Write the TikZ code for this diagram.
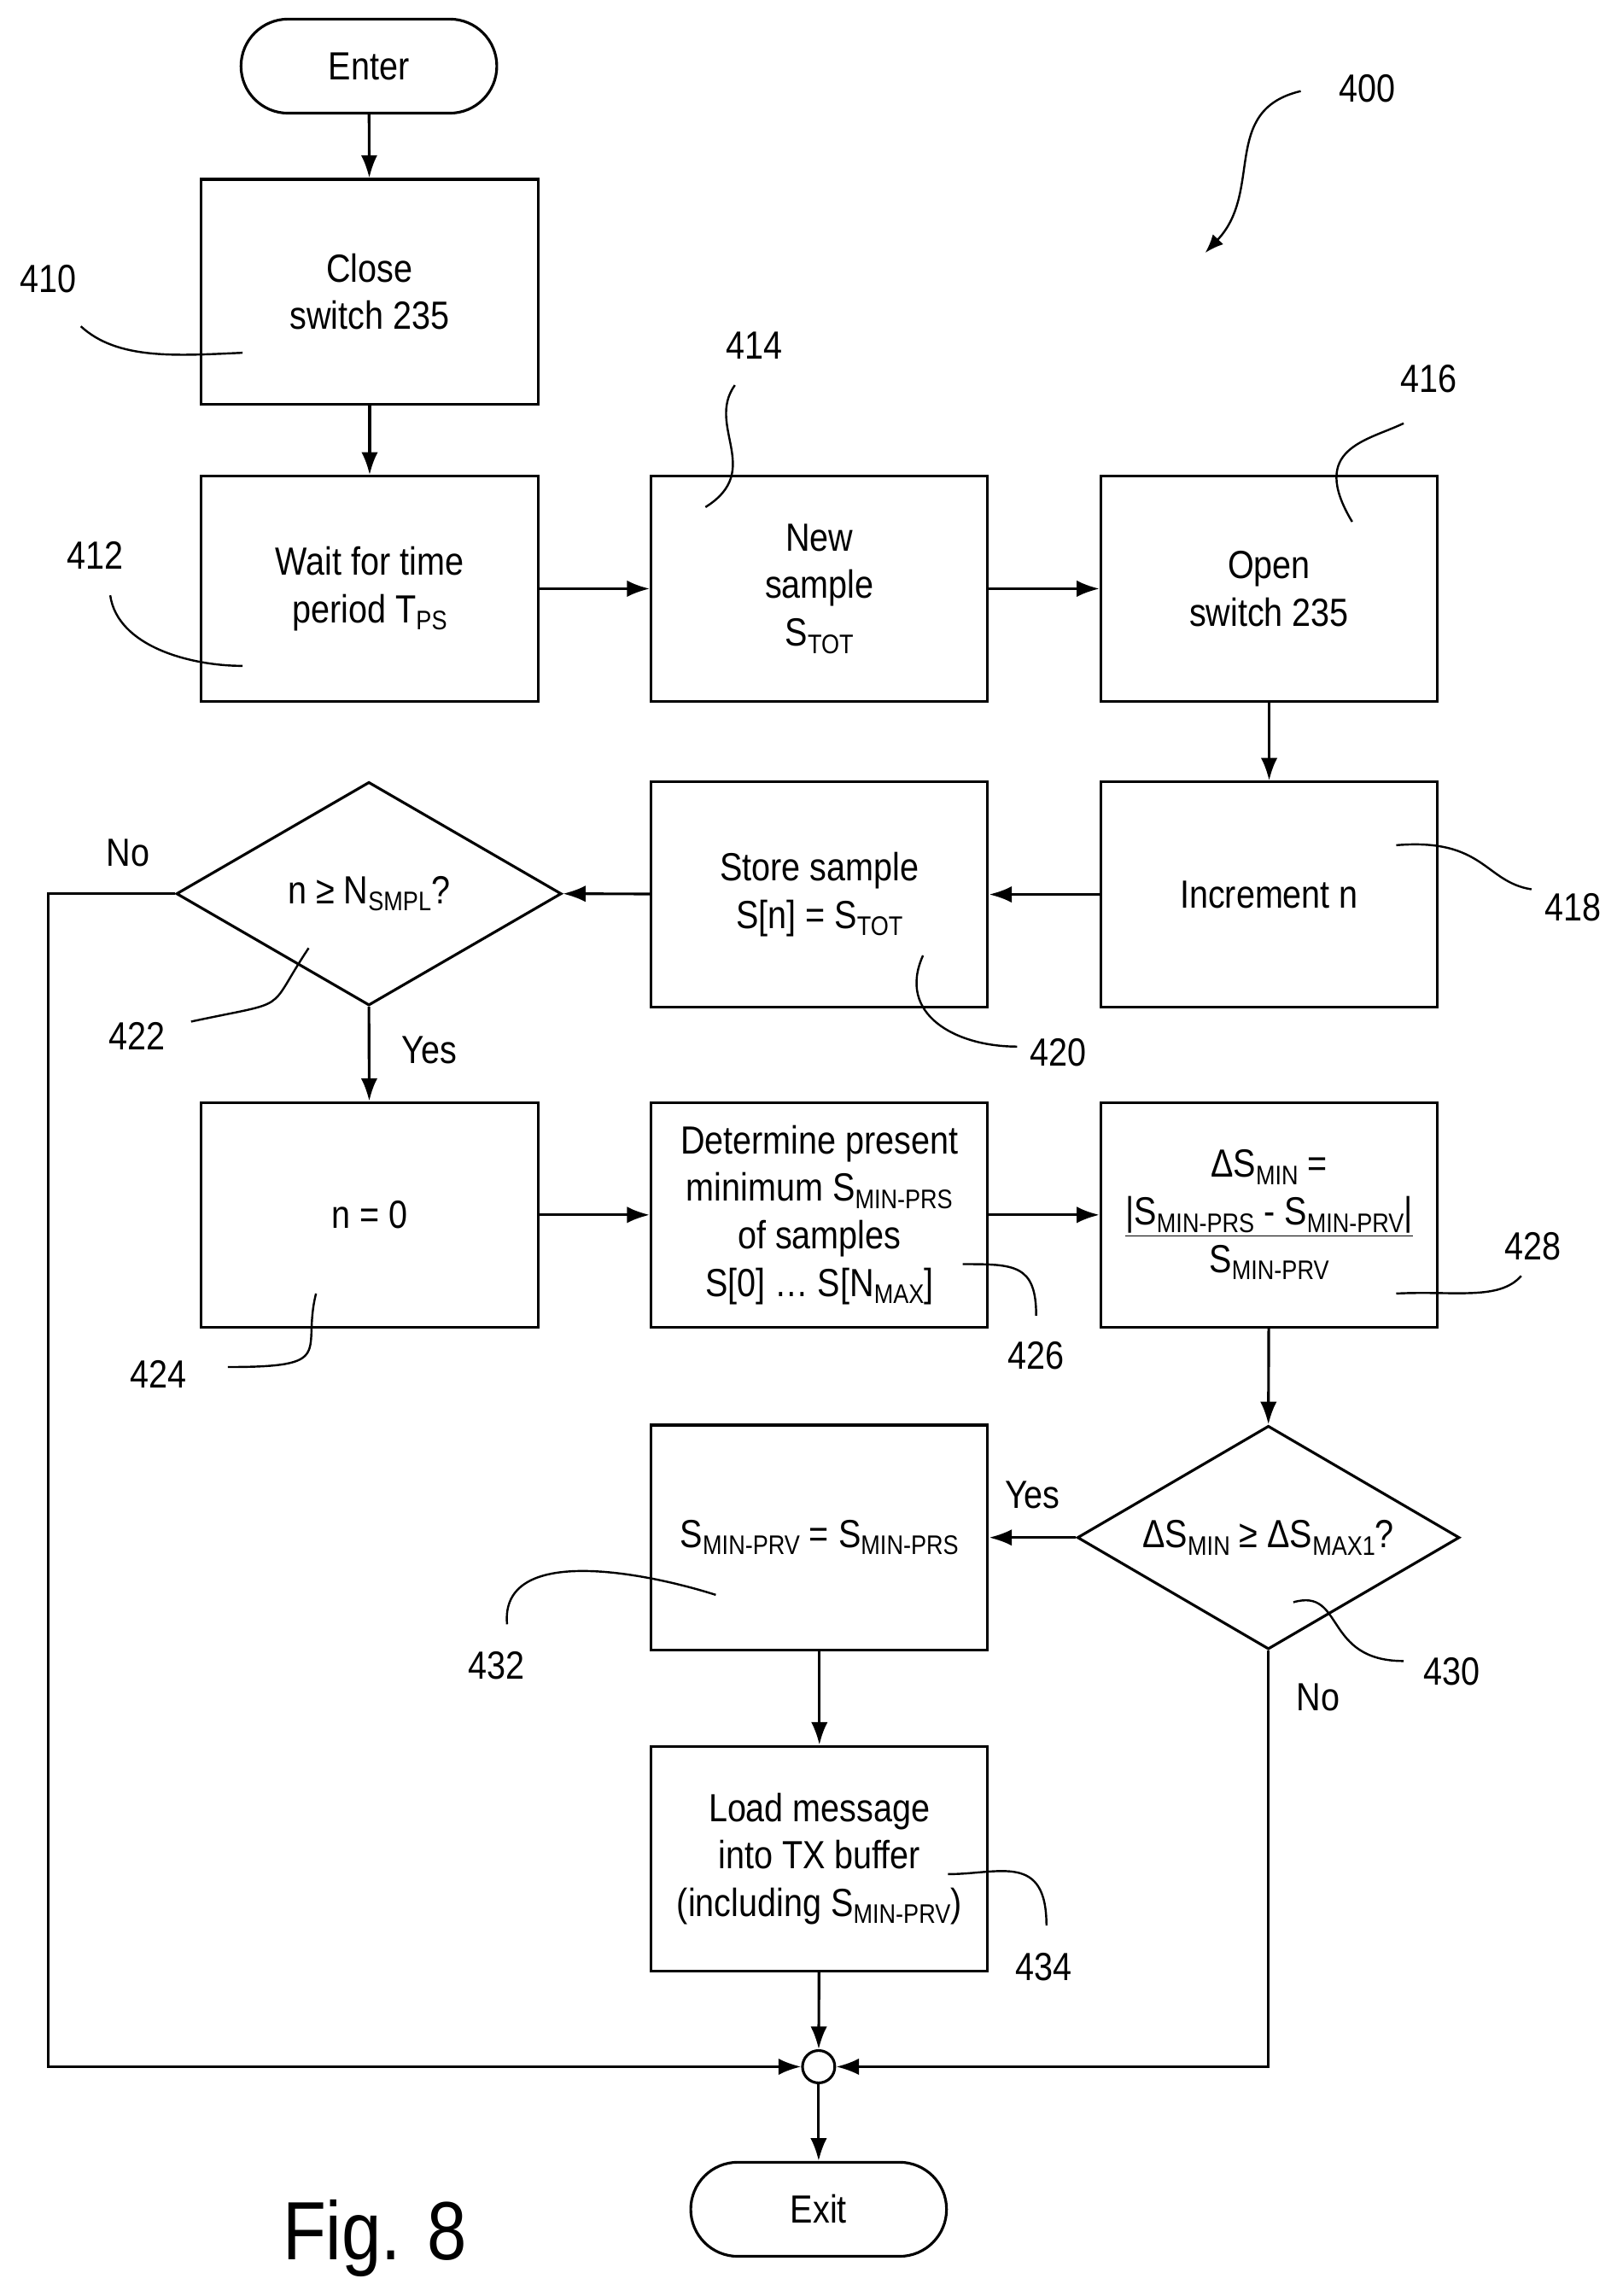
\documentclass[tikz,border=0pt]{standalone}
\usepackage{fontspec}
\setmainfont{Liberation Sans}[FakeStretch=0.86]
\usetikzlibrary{shapes.geometric,arrows.meta}
\newcommand{\subx}[1]{\raisebox{-0.35ex}{\fontsize{13}{13}\selectfont #1}}
\begin{document}
\begin{tikzpicture}[x=0.025cm,y=-0.025cm,line width=1.3pt,
  every node/.style={font=\fontsize{19}{23}\selectfont},
  box/.style={draw,minimum width=5.725cm,minimum height=3.825cm,align=center,inner sep=2pt},
  term/.style={draw,rounded corners=0.8cm,minimum width=4.35cm,minimum height=1.6cm},
  dia/.style={draw,diamond,aspect=1.72,minimum width=6.55cm,minimum height=3.8cm,inner sep=0pt,align=center},
  arr/.style={-{Latex[length=11pt,width=8pt]}},
  lead/.style={line width=1pt}]
\useasboundingbox (0,0) rectangle (1100,1562);
\node[term] (enter) at (251,45) {Enter};
\node[box] (b410) at (251.5,198.5) {Close\\switch 235};
\node[box] (b412) at (251.5,400.5) {Wait for time\\period T\subx{PS}};
\node[box] (b414) at (557.5,400.5) {New\\sample\\S\subx{TOT}};
\node[box] (b416) at (863.5,400.5) {Open\\switch 235};
\node[box] (b418) at (863.5,608.5) {Increment n};
\node[box] (b420) at (557.5,608.5) {Store sample\\S[n] = S\subx{TOT}};
\node[dia] (d422) at (251,608) {};
\node at (251,608) {n ≥ N\subx{SMPL}?};
\node[box] (b424) at (251.5,826.5) {n = 0};
\node[box] (b426) at (557.5,826.5) {Determine present\\minimum S\subx{MIN-PRS}\\of samples\\S[0] … S[N\subx{MAX}]};
\node[box] (b428) at (863.5,826.5) {ΔS\subx{MIN} =\\\underline{|S\subx{MIN-PRS} - S\subx{MIN-PRV}|}\\S\subx{MIN-PRV}};
\node[dia,minimum width=6.5cm] (d430) at (863,1046) {};
\node at (863,1046) {ΔS\subx{MIN} ≥ ΔS\subx{MAX1}?};
\node[box] (b432) at (557.5,1046) {S\subx{MIN-PRV} = S\subx{MIN-PRS}};
\node[box] (b434) at (557.5,1264.5) {Load message\\into TX buffer\\(including S\subx{MIN-PRV})};
\node[draw,circle,minimum size=0.55cm,inner sep=0pt] (j) at (557,1406) {};
\node[term] (exit) at (557,1503) {Exit};
\node[font=\fontsize{40}{44}\selectfont] (fig) at (255,1523) {Fig. 8};

\draw[arr] (enter) -- (b410);
\draw[arr] (b410) -- (b412);
\draw[arr] (b412) -- (b414);
\draw[arr] (b414) -- (b416);
\draw[arr] (b416) -- (b418);
\draw[arr] (b418) -- (b420);
\draw[arr] (b420) -- (d422.east);
\draw[arr] (d422.south) -- node[right,xshift=12pt,yshift=2pt]{Yes} (b424);
\draw[arr] (b424) -- (b426);
\draw[arr] (b426) -- (b428);
\draw[arr] (b428) -- (d430.north);
\draw[arr] (d430.west) -- node[above,yshift=10pt]{Yes} (b432);
\draw[arr] (b432) -- (b434);
\draw[arr] (b434) -- (j);
\draw[arr] (j) -- (exit);
\coordinate (nl1) at (33,608); \coordinate (nl2) at (33,1406);
\draw[arr] (d422.west) -- (nl1) -- (nl2) -- (j);
\node at (87,580) {No};
\coordinate (nr) at (863,1406);
\draw[arr] (d430.south) -- (nr) -- (j);
\node at (897,1155) {No};

\node (l400) at (930,60) {400};
\coordinate (a400) at (820,172);
\draw[lead,-{Latex[length=9pt,width=7pt]}] (885,62) .. controls (830,75) and (860,130) .. (a400);
\node (l410) at (33,190) {410};
\draw[lead] (55,222) .. controls (80,245) and (120,242) .. (165,240);
\node (l412) at (65,378) {412};
\draw[lead] (75,405) .. controls (80,440) and (130,453) .. (165,453);
\node (l414) at (513,235) {414};
\draw[lead] (500,262) .. controls (480,290) and (520,320) .. (480,345);
\node (l416) at (972,258) {416};
\draw[lead] (955,288) .. controls (930,300) and (890,305) .. (920,355);
\node (l418) at (1070,617) {418};
\draw[lead] (1042,605) .. controls (1010,600) and (1010,570) .. (950,575);
\node (l420) at (720,716) {420};
\draw[lead] (692,712) .. controls (650,712) and (610,690) .. (628,650);
\node (l422) at (93,705) {422};
\draw[lead] (130,695) .. controls (200,680) and (180,690) .. (210,645);
\node (l424) at (108,935) {424};
\draw[lead] (155,930) .. controls (230,930) and (205,920) .. (215,880);
\node (l426) at (705,922) {426};
\draw[lead] (705,895) .. controls (705,860) and (690,860) .. (655,860);
\node (l428) at (1043,848) {428};
\draw[lead] (1035,868) .. controls (1020,885) and (990,878) .. (950,880);
\node (l430) at (988,1137) {430};
\draw[lead] (955,1130) .. controls (900,1130) and (915,1080) .. (880,1090);
\node (l432) at (338,1133) {432};
\draw[lead] (345,1105) .. controls (340,1050) and (440,1070) .. (487,1085);
\node (l434) at (710,1338) {434};
\draw[lead] (712,1310) .. controls (712,1260) and (680,1275) .. (645,1275);
\end{tikzpicture}
\end{document}
